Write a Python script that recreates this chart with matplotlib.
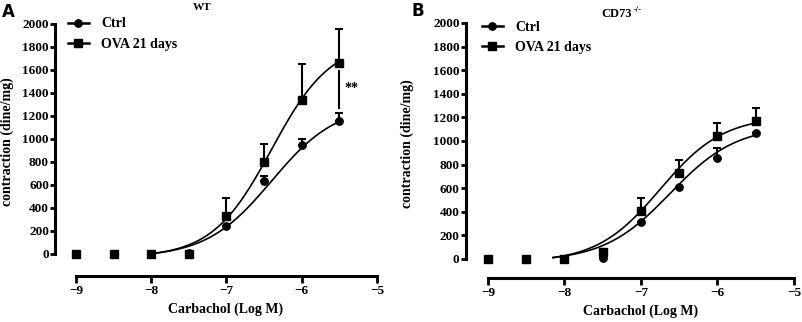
import numpy as np
import matplotlib
matplotlib.use("Agg")
import matplotlib.pyplot as plt

plt.rcParams["font.family"] = ["Liberation Serif", "DejaVu Serif"]
plt.rcParams["font.weight"] = "bold"

# log molar carbachol
log_dose = [-9, -8.5, -8, -7.5, -7, -6.5, -6, -5.5]

# panel A, WT (mean, upper SEM)
wt_ctrl = [0, 0, 0, 5, 245, 632, 946, 1160]
wt_ctrl_err = [0, 0, 0, 0, 0, 45, 50, 68]
wt_ova = [0, 0, 0, 0, 328, 802, 1343, 1661]
wt_ova_err = [0, 0, 0, 0, 155, 156, 305, 295]

# panel B, CD73 -/-
ko_ctrl = [0, 0, 0, 10, 315, 610, 860, 1070]
ko_ctrl_err = [0, 0, 0, 0, 0, 0, 79, 0]
ko_ova = [0, 0, 0, 62, 405, 726, 1044, 1172]
ko_ova_err = [0, 0, 0, 25, 108, 111, 105, 108]

# sigmoid fits as drawn: bottom, span, logEC50, hill slope
wt_ctrl_fit = (-30, 1330, -6.40, 1.0)
wt_ova_fit = (-30, 1880, -6.40, 1.1)
ko_ctrl_fit = (-20, 1150, -6.62, 1.0)
ko_ova_fit = (-30, 1240, -6.75, 1.05)


def hill(t, params):
    b, span, ec, h = params
    return b + span / (1.0 + 10 ** ((ec - t) * h))


def draw_panel(ax, ctrl, ctrl_err, ova, ova_err, fits, x_start, spine_off):
    xs = np.array(log_dose)
    t = np.linspace(x_start, -5.5, 200)
    series = [(ctrl, ctrl_err, fits[0], "o", 5.3, "Ctrl"),
              (ova, ova_err, fits[1], "s", 6.0, "OVA 21 days")]
    for y, err, fit, mk, ms, lab in series:
        ax.plot(t, np.clip(hill(t, fit), 0, None), color="black", lw=1.2,
                clip_on=False)
        ax.errorbar(xs, y, yerr=[np.zeros(len(err)), err], fmt="none",
                    ecolor="black", elinewidth=1.5, capsize=3, capthick=1.5,
                    clip_on=False)
        ax.plot(xs, y, mk, color="black", ms=ms, clip_on=False)
        ax.plot([], [], "-" + mk, color="black", ms=ms, lw=1.8, label=lab)

    ax.set_xlim(-9, -5)
    ax.set_ylim(0, 2000)
    ax.set_xticks([-9, -8, -7, -6, -5])
    ax.set_yticks(range(0, 2001, 200))
    ax.spines["top"].set_visible(False)
    ax.spines["right"].set_visible(False)
    ax.spines["left"].set_position(("outward", spine_off[0]))
    ax.spines["bottom"].set_position(("outward", spine_off[1]))
    ax.spines["left"].set_linewidth(2.2)
    ax.spines["bottom"].set_linewidth(2.2)
    ax.tick_params(axis="y", width=2.0, length=3.5, pad=1, labelsize=9.5)
    ax.tick_params(axis="x", width=2.0, length=5, pad=1.5, labelsize=9.5)
    for lbl in ax.get_xticklabels() + ax.get_yticklabels():
        lbl.set_fontweight("bold")
    ax.set_xlabel("Carbachol (Log M)", fontsize=10, fontweight="bold")
    ax.set_ylabel("contraction (dine/mg)", fontsize=10, fontweight="bold")


fig = plt.figure(figsize=(8.03, 3.22), dpi=100)
ax_a = fig.add_axes([0.0946, 0.2112, 0.3748, 0.7143])
ax_b = fig.add_axes([0.6077, 0.1957, 0.3810, 0.7329])

draw_panel(ax_a, wt_ctrl, wt_ctrl_err, wt_ova, wt_ova_err,
           (wt_ctrl_fit, wt_ova_fit), -8.0, (15, 16))
draw_panel(ax_b, ko_ctrl, ko_ctrl_err, ko_ova, ko_ova_err,
           (ko_ctrl_fit, ko_ova_fit), -8.15, (16, 14))

ax_a.yaxis.set_label_coords(-0.206, 0.487)
ax_b.yaxis.set_label_coords(-0.241, 0.49)
ax_a.xaxis.set_label_coords(226 / 803, 1 - 309 / 322, transform=fig.transFigure)
ax_b.xaxis.set_label_coords(641 / 803, 1 - 311 / 322, transform=fig.transFigure)
for ax in (ax_a, ax_b):
    ax.xaxis.label.set_va("center")

for ax, x0, y0 in [(ax_a, 68 / 803, 0.946), (ax_b, 482 / 803, 0.936)]:
    ax.legend(loc="upper left", bbox_to_anchor=(x0, y0),
              bbox_transform=fig.transFigure, frameon=False,
              borderpad=0, borderaxespad=0, handlelength=1.5,
              handletextpad=0.9, labelspacing=0.55,
              prop={"weight": "bold", "size": 10})

# significance mark, WT at highest dose
ax_a.plot([-5.5, -5.5], [1590, 1270], color="black", lw=1.5)
ax_a.text(-5.43, 1443, "**", fontsize=10, fontweight="bold", va="center", ha="left")

fig.text(202 / 803, 1 - 8 / 322, "WT", fontsize=8, fontweight="bold",
         ha="center", va="center")
fig.text(632 / 803, 1 - 14 / 322, "CD73", fontsize=9, fontweight="bold",
         ha="right", va="center")
fig.text(634 / 803, 1 - 10 / 322, "-/-", fontsize=6, fontweight="bold",
         ha="left", va="center")

fig.text(0.002, 1 - 12 / 322, "A", fontsize=12, fontweight="bold",
         family="DejaVu Sans", va="center")
fig.text(0.513, 1 - 11 / 322, "B", fontsize=12, fontweight="bold",
         family="DejaVu Sans", va="center")

fig.savefig("out.png", dpi=100)
